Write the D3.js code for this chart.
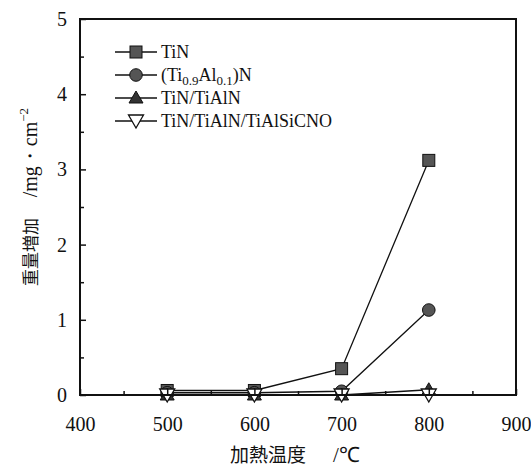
<!DOCTYPE html>
<html>
<head>
<meta charset="utf-8">
<script src="https://cdn.jsdelivr.net/npm/d3@7"></script>
<style>
  body { margin: 0; background: #fff; }
  svg text { fill: #111; }
</style>
</head>
<body>
<div class="chart"></div>
<script>
// temperatures (°C) and weight gain (mg/cm^2)
var temps = [500, 600, 700, 800];
var tin = [0.06, 0.06, 0.35, 3.12];
var tialn = [0.03, 0.03, 0.05, 1.13];
var tinTialn = [0.0, 0.0, 0.0, 0.07];
var tinTialnSicno = [0.0, 0.0, 0.0, 0.0];
var xTicks = [400, 500, 600, 700, 800, 900];
var yTicks = [0, 1, 2, 3, 4, 5];

var width = 531, height = 471;
var margin = {top: 19, right: 15, bottom: 76, left: 80};
var serif = "Liberation Serif";
var cjk = "Noto Sans CJK JP";

var svg = d3.select(".chart").append("svg")
    .attr("width", width)
    .attr("height", height);

var x = d3.scaleLinear().domain([400, 900]).range([margin.left, width - margin.right]);
var y = d3.scaleLinear().domain([0, 5]).range([height - margin.bottom, margin.top]);

var series = [
  {name: "TiN", values: tin, shape: "square"},
  {name: "TiAlN", values: tialn, shape: "circle"},
  {name: "TiN/TiAlN", values: tinTialn, shape: "up"},
  {name: "TiN/TiAlN/TiAlSiCNO", values: tinTialnSicno, shape: "down"}
];

var line = d3.line()
    .x(function(d) { return x(d[0]); })
    .y(function(d) { return y(d[1]); });

function drawMarker(g, shape) {
  if (shape == "square") {
    g.append("rect").attr("x", -6).attr("y", -6).attr("width", 12).attr("height", 12)
      .attr("fill", "#555").attr("stroke", "#111").attr("stroke-width", 1);
  } else if (shape == "circle") {
    g.append("circle").attr("r", 6.3).attr("fill", "#555").attr("stroke", "#111").attr("stroke-width", 1);
  } else if (shape == "up") {
    g.append("path").attr("d", "M0,-7L7,5L-7,5Z").attr("fill", "#333").attr("stroke", "#111");
  } else {
    g.append("path").attr("d", "M-7.5,-6L7.5,-6L0,7Z").attr("fill", "#fff").attr("stroke", "#111").attr("stroke-width", 1.3);
  }
}

// lines and markers
series.forEach(function(s) {
  var pts = temps.map(function(t, i) { return [t, s.values[i]]; });
  svg.append("path")
    .datum(pts)
    .attr("d", line)
    .attr("fill", "none")
    .attr("stroke", "#111")
    .attr("stroke-width", 1.3);
  pts.forEach(function(p) {
    var g = svg.append("g").attr("transform", "translate(" + x(p[0]) + "," + y(p[1]) + ")");
    drawMarker(g, s.shape);
  });
});

// frame
svg.append("rect")
  .attr("x", margin.left).attr("y", margin.top)
  .attr("width", width - margin.left - margin.right)
  .attr("height", height - margin.top - margin.bottom)
  .attr("fill", "none").attr("stroke", "#111").attr("stroke-width", 2);

// x axis
var xAxis = svg.append("g")
  .attr("transform", "translate(0," + (height - margin.bottom) + ")")
  .call(d3.axisBottom(x).tickValues(xTicks).tickSize(-6).tickPadding(22).tickFormat(d3.format("d")));
xAxis.attr("font-family", serif).attr("font-size", 20);
xAxis.select(".domain").remove();
xAxis.selectAll("line").attr("stroke", "#111").attr("stroke-width", 1.5);

svg.append("g")
  .attr("transform", "translate(0," + (height - margin.bottom) + ")")
  .call(d3.axisBottom(x).tickValues([450, 550, 650, 750, 850]).tickSize(-4).tickFormat(""))
  .call(function(g) { g.select(".domain").remove(); g.selectAll("line").attr("stroke", "#111").attr("stroke-width", 1.5); });

// y axis
var yAxis = svg.append("g")
  .attr("transform", "translate(" + margin.left + ",0)")
  .call(d3.axisLeft(y).tickValues(yTicks).tickSize(-6).tickPadding(13).tickFormat(d3.format("d")));
yAxis.attr("font-family", serif).attr("font-size", 20);
yAxis.select(".domain").remove();
yAxis.selectAll("line").attr("stroke", "#111").attr("stroke-width", 1.5);

svg.append("g")
  .attr("transform", "translate(" + margin.left + ",0)")
  .call(d3.axisLeft(y).tickValues([0.5, 1.5, 2.5, 3.5, 4.5]).tickSize(-4).tickFormat(""))
  .call(function(g) { g.select(".domain").remove(); g.selectAll("line").attr("stroke", "#111").attr("stroke-width", 1.5); });

// axis titles
var xt = svg.append("text")
  .attr("x", 295).attr("y", 462)
  .attr("text-anchor", "middle")
  .attr("font-size", 19);
xt.append("tspan").attr("font-family", cjk).text("加熱温度　");
xt.append("tspan").attr("font-family", serif).attr("font-size", 21).attr("dx", 8).text("/℃");

var yt = svg.append("text")
  .attr("transform", "translate(37,197) rotate(-90)")
  .attr("text-anchor", "middle")
  .attr("font-size", 20);
yt.append("tspan").attr("font-family", cjk).attr("font-size", 17).text("重量増加　 ");
yt.append("tspan").attr("font-family", serif).text("/mg・cm");
yt.append("tspan").attr("font-family", serif).attr("font-size", 13).attr("dy", -9).text("−2");

// legend
var leg = svg.append("g").attr("transform", "translate(115,52)");
series.forEach(function(s, i) {
  var row = leg.append("g").attr("transform", "translate(0," + (i * 23) + ")");
  row.append("line").attr("x1", 0).attr("x2", 42).attr("stroke", "#111").attr("stroke-width", 1.3);
  var m = row.append("g").attr("transform", "translate(21,0)");
  drawMarker(m, s.shape);
  var t = row.append("text").attr("x", 46).attr("dy", "0.35em")
    .attr("font-size", 18).attr("font-family", serif);
  if (s.shape == "circle") {
    t.append("tspan").text("(Ti");
    t.append("tspan").attr("font-size", 13).attr("dy", 4).text("0.9");
    t.append("tspan").attr("dy", -4).text("Al");
    t.append("tspan").attr("font-size", 13).attr("dy", 4).text("0.1");
    t.append("tspan").attr("dy", -4).text(")N");
  } else {
    t.text(s.name);
  }
});
</script>
</body>
</html>
